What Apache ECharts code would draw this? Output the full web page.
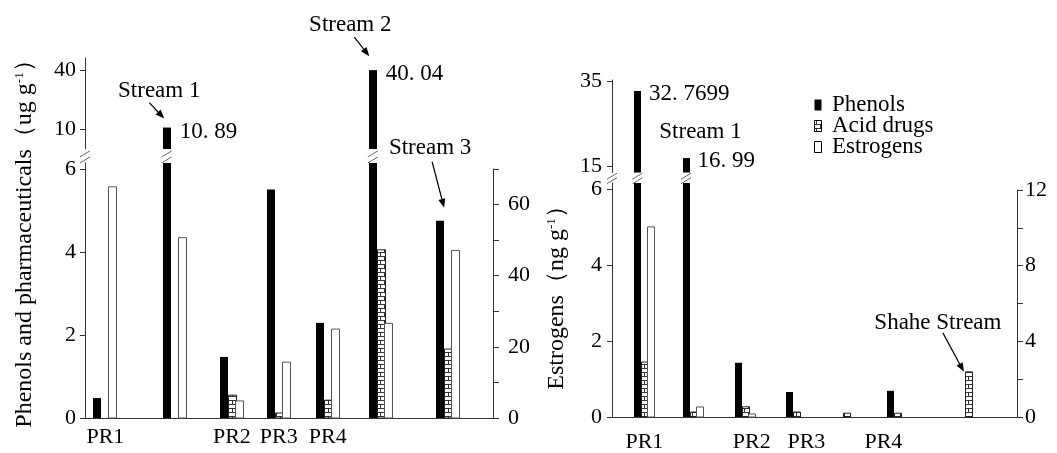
<!DOCTYPE html>
<html><head><meta charset="utf-8">
<script src="https://cdn.jsdelivr.net/npm/echarts@6/dist/echarts.min.js"></script>
<style>html,body{margin:0;padding:0;background:#fff}#c{width:1057px;height:453px}</style>
</head><body><div id="c"></div>
<script>
// ---------------- data ----------------
const seriesNames = ['Phenols', 'Acid drugs', 'Estrogens'];

// left panel
const leftGroups = ['PR1', 'Stream 1', 'PR2', 'PR3', 'PR4', 'Stream 2', 'Stream 3'];
const leftSlots = [5, 22, 36, 47.5, 59.5, 72.5, 89];
const leftPhenols = [0.48, 10.89, 1.47, 5.5, 2.29, 40.04, 4.75];
const leftAcid = [0, 0, 0.55, 0.12, 0.43, 4.05, 1.66];
const leftEstrogens = [65.0, 50.7, 4.8, 15.7, 25.0, 26.6, 47.1];
const leftLowerTicks = [0, 2, 4, 6];
const leftUpperTicks = [10, 40];
const leftEstroTicks = [0, 10, 20, 30, 40, 50, 60, 70];
const leftEstroLabels = [0, 20, 40, 60];

// right panel
const rightGroups = ['PR1', 'Stream 1', 'PR2', 'PR3', '', 'PR4', 'Shahe Stream'];
const rightSlots = [8, 20, 33, 45.5, 58, 70.5, 88];
const rightLabelNames = ['PR1', 'PR2', 'PR3', 'PR4'];
const rightLabelSlots = [8, 34.5, 48, 67];
const rightPhenols = [32.7699, 16.99, 1.43, 0.66, 0, 0.69, 0];
const rightAcid = [1.45, 0.13, 0.27, 0.13, 0.1, 0.1, 1.19];
const rightEstrogens = [10.05, 0.53, 0.16, 0, 0, 0, 0];
const rightLowerTicks = [0, 2, 4, 6];
const rightUpperTicks = [15, 35];
const rightEstroTicks = [0, 2, 4, 6, 8, 10, 12];
const rightEstroLabels = [0, 4, 8, 12];

// ---------------- setup ----------------
const FONT = '"Liberation Serif", "Times New Roman", serif';
const FS = 22;     // axis labels
const FA = 23;     // annotations / legend
const FT = 24;     // axis titles
const AX = '#333';
const L_MAX = 6.14, L_UP = [0, 46.2];
const R_MAX = 6.17, R_UP = [13.6, 35.36];

function brickCanvas() {
  const c = document.createElement('canvas'); c.width = 8; c.height = 8;
  const g = c.getContext('2d');
  g.fillStyle = '#fff'; g.fillRect(0, 0, 8, 8);
  g.fillStyle = '#333';
  g.fillRect(0, 0, 8, 1); g.fillRect(0, 4, 8, 1);
  g.fillRect(0, 0, 1, 4); g.fillRect(4, 4, 1, 4);
  return c;
}
const brick = { image: brickCanvas(), repeat: 'repeat' };
const styles = [
  { fill: '#000' },
  { fill: brick, stroke: '#222', lineWidth: 1 },
  { fill: '#fff', stroke: '#555', lineWidth: 1 }
];

const chart = echarts.init(document.getElementById('c'), null, { renderer: 'canvas' });

const grids = [
  { left: 85, width: 408, top: 163, height: 255 },   // 0 left lower
  { left: 85, width: 408, top: 58, height: 91 },     // 1 left upper
  { left: 85, width: 408, top: 169, height: 249 },   // 2 left estrogens
  { left: 612, width: 405, top: 183, height: 234 },  // 3 right lower
  { left: 612, width: 405, top: 80, height: 92.5 },  // 4 right upper
  { left: 612, width: 405, top: 190, height: 227 }   // 5 right estrogens
];

function xAx(gi, show, vals, names, margin) {
  return {
    type: 'value', gridIndex: gi, min: 0, max: 100, show,
    splitLine: { show: false },
    axisLine: { show: true, onZero: false, lineStyle: { color: AX } },
    axisTick: { show: false },
    axisLabel: {
      show: true, customValues: vals, margin,
      formatter: v => { const i = vals.indexOf(v); return i >= 0 ? names[i] : ''; },
      color: '#000', fontFamily: FONT, fontSize: FS
    }
  };
}
function yAx(gi, min, max, ticks, labels, pos, tickLen, margin) {
  return {
    type: 'value', gridIndex: gi, min, max, position: pos,
    splitLine: { show: false },
    axisLine: { show: true, onZero: false, lineStyle: { color: AX } },
    axisTick: { show: true, inside: false, length: tickLen, customValues: ticks, lineStyle: { color: AX } },
    axisLabel: { show: true, customValues: labels, margin, color: '#000', fontFamily: FONT, fontSize: FS }
  };
}

const leftLabelNames = leftGroups.filter(g => /^PR/.test(g));
const leftLabelSlots = leftGroups.map((g, i) => /^PR/.test(g) ? leftSlots[i] : null).filter(v => v !== null);

const xAxes = [
  xAx(0, true, leftLabelSlots, leftLabelNames, 8),
  xAx(1, false, [], [], 8),
  xAx(2, false, [], [], 8),
  xAx(3, true, rightLabelSlots, rightLabelNames, 14),
  xAx(4, false, [], [], 8),
  xAx(5, false, [], [], 8)
];
const yAxes = [
  yAx(0, 0, L_MAX, leftLowerTicks, leftLowerTicks, 'left', 5, 9),
  yAx(1, L_UP[0], L_UP[1], leftUpperTicks, leftUpperTicks, 'left', 5, 9),
  yAx(2, 0, 70, leftEstroTicks, leftEstroLabels, 'right', 6, 15),
  yAx(3, 0, R_MAX, rightLowerTicks, rightLowerTicks, 'left', 5, 10),
  yAx(4, R_UP[0], R_UP[1], rightUpperTicks, rightUpperTicks, 'left', 5, 10),
  yAx(5, 0, 12, rightEstroTicks, rightEstroLabels, 'right', 6, 8)
];

function barSeries(name, ai, slots, vals, offset, width, base, minShow, style) {
  return {
    type: 'custom', name, xAxisIndex: ai, yAxisIndex: ai, clip: false, silent: true,
    data: vals.map((v, i) => [slots[i], v]),
    renderItem: (params, api) => {
      const x = api.value(0), v = api.value(1);
      if (!(v > minShow)) return null;
      const top = api.coord([x, v]);
      const bot = api.coord([x, base]);
      const cs = params.coordSys;
      const left = Math.round(top[0] + offset - width / 2) + (style.stroke ? 0.5 : 0);
      const r = echarts.graphic.clipRectByRect(
        { x: left, y: top[1], width: width, height: bot[1] - top[1] },
        { x: cs.x, y: cs.y, width: cs.width, height: cs.height + 0.5 });
      if (!r) return null;
      return { type: 'rect', shape: r, style };
    }
  };
}

const LW = 8, RW = 7;
const series = [
  barSeries(seriesNames[0], 0, leftSlots, leftPhenols, -LW, LW, 0, 0, styles[0]),
  barSeries(seriesNames[0], 1, leftSlots, leftPhenols, -LW, LW, L_UP[0], L_MAX, styles[0]),
  barSeries(seriesNames[1], 0, leftSlots, leftAcid, 0, LW, 0, 0, styles[1]),
  barSeries(seriesNames[2], 2, leftSlots, leftEstrogens, LW - 1, LW, 0, 0, styles[2]),
  barSeries(seriesNames[0], 3, rightSlots, rightPhenols, -RW, RW, 0, 0, styles[0]),
  barSeries(seriesNames[0], 4, rightSlots, rightPhenols, -RW, RW, R_UP[0], R_MAX, styles[0]),
  barSeries(seriesNames[1], 3, rightSlots, rightAcid, 0, RW, 0, 0, styles[1]),
  barSeries(seriesNames[2], 5, rightSlots, rightEstrogens, RW - 1, RW, 0, 0, styles[2])
];

chart.setOption({
  animation: false,
  backgroundColor: '#fff',
  textStyle: { fontFamily: FONT },
  grid: grids,
  xAxis: xAxes,
  yAxis: yAxes,
  series
});

// ---------------- annotations (positioned from data) ----------------
const P = (ai, x, v) => chart.convertToPixel({ xAxisIndex: ai, yAxisIndex: ai }, [x, v]);
const gfx = [];
const txt = (x, y, text, align) => ({
  type: 'text', x, y, silent: true,
  style: { text, fill: '#000', fontFamily: FONT, fontSize: FA, align: align || 'center', verticalAlign: 'middle' }
});
function arrow(s, t) {
  const dx = t[0] - s[0], dy = t[1] - s[1], L = Math.hypot(dx, dy), ux = dx / L, uy = dy / L;
  const hl = 9, hw = 3.5, bx = t[0] - ux * hl, by = t[1] - uy * hl;
  gfx.push({ type: 'line', silent: true, shape: { x1: s[0], y1: s[1], x2: bx, y2: by }, style: { stroke: '#000', lineWidth: 1.2 } });
  gfx.push({ type: 'polygon', silent: true, shape: { points: [t, [bx - uy * hw, by + ux * hw], [bx + uy * hw, by - ux * hw]] }, style: { fill: '#000' } });
}
function breakMarks(cx, yTop, yBot) {
  const g = yBot - yTop;
  [0.35, 0.78].forEach(f => {
    const y = yTop + g * f;
    gfx.push({ type: 'line', silent: true, shape: { x1: cx - 5, y1: y + 3, x2: cx + 5, y2: y - 3 }, style: { stroke: '#666', lineWidth: 1 } });
  });
}
const fmt = v => String(v).replace('.', '. ');

// left panel breaks
{
  const yTop = P(1, 0, L_UP[0])[1], yBot = P(0, 0, L_MAX)[1];
  breakMarks(P(0, 0, 0)[0], yTop, yBot);
  leftPhenols.forEach((v, i) => {
    if (v > L_MAX) {
      const p = P(1, leftSlots[i], v); const cx = p[0] - LW;
      breakMarks(cx, yTop, yBot);
      gfx.push(txt(cx + LW / 2 + 9, p[1] + 4, fmt(v), 'left'));
    }
  });
}
// right panel breaks
{
  const yTop = P(4, 0, R_UP[0])[1], yBot = P(3, 0, R_MAX)[1];
  breakMarks(P(3, 0, 0)[0], yTop, yBot);
  rightPhenols.forEach((v, i) => {
    if (v > R_MAX) {
      const p = P(4, rightSlots[i], v); const cx = p[0] - RW;
      breakMarks(cx, yTop, yBot);
      gfx.push(txt(cx + RW / 2 + 8, p[1] + 3, fmt(v), 'left'));
    }
  });
}
// stream callouts (offsets relative to the bar top centre)
function callout(ai, slot, v, dx, text, tip, start, tOff) {
  const p = P(ai, slot, v); const cx = p[0] + dx, cy = p[1];
  if (tip) arrow([cx + start[0], cy + start[1]], [cx + tip[0], cy + tip[1]]);
  gfx.push(txt(cx + tOff[0], cy + tOff[1], text));
}
callout(1, leftSlots[1], leftPhenols[1], -LW, leftGroups[1], [-2.5, -9], [-17.5, -25], [-7.5, -37]);
callout(1, leftSlots[5], leftPhenols[5], -LW, leftGroups[5], [-3.5, -14], [-18.5, -33], [-22.5, -45]);
callout(0, leftSlots[6], leftPhenols[6], -LW, leftGroups[6], [4, -13], [-8, -59], [-10, -73]);
callout(4, rightSlots[1], rightPhenols[1], -RW, rightGroups[1], null, null, [14.5, -26]);
callout(3, rightSlots[6], rightAcid[6], 0, rightGroups[6], [-4.5, 0], [-25.5, -39], [-30.5, -49]);

// axis titles
const rich = { t: { fontSize: FT, fontFamily: FONT, fill: '#000' }, s: { fontSize: 13, fontFamily: FONT, verticalAlign: 'top', fill: '#000' } };
gfx.push({ type: 'text', x: 25, y: 238, rotation: Math.PI / 2, silent: true,
  style: { text: '{t|Phenols and pharmaceuticals（ug g}{s|-1}{t|）}', rich, align: 'center', verticalAlign: 'middle' } });
gfx.push({ type: 'text', x: 557, y: 292, rotation: Math.PI / 2, silent: true,
  style: { text: '{t|Estrogens（ng g}{s|-1}{t|）}', rich, align: 'center', verticalAlign: 'middle' } });

// legend
seriesNames.forEach((n, i) => {
  const y = 105 + i * 21;
  gfx.push({ type: 'rect', silent: true, shape: { x: 814.5, y: y - 5.5, width: 7, height: 11 },
    style: Object.assign({}, styles[i], i === 0 ? {} : { stroke: '#000', lineWidth: 1 }) });
  gfx.push(txt(832, y, n, 'left'));
});

chart.setOption({ graphic: gfx });
</script>
</body></html>
